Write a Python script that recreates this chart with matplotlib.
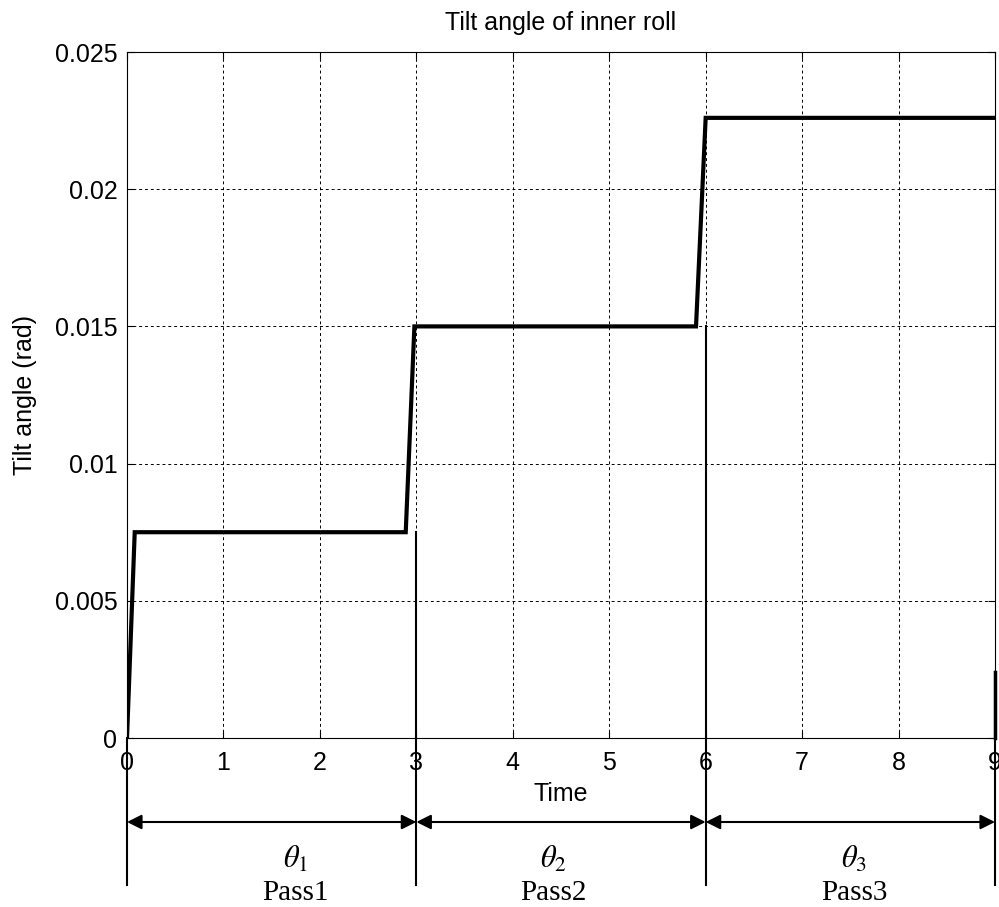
import matplotlib
matplotlib.use('Agg')
import matplotlib.pyplot as plt
import matplotlib.transforms as transforms

plt.rcParams['font.family'] = ['Liberation Sans', 'DejaVu Sans']
plt.rcParams['mathtext.fontset'] = 'stix'

# step response of the tilt angle over three passes
time = [0, 0.08, 2.89, 2.98, 5.90, 6.0, 9.0]
tilt = [0, 0.0075, 0.0075, 0.015, 0.015, 0.0226, 0.0226]

# start of the next pass, seen at the right edge
next_t = [9.0, 9.0]
next_tilt = [0, 0.0024]

pass_edges = [0, 3, 6, 9]
edge_levels = [0, 0.0075, 0.015, 0.0024]
theta_labels = [r'$\theta_1$', r'$\theta_2$', r'$\theta_3$']
pass_labels = ['Pass1', 'Pass2', 'Pass3']
label_x = [1.75, 4.42, 7.54]

xticks = [0, 1, 2, 3, 4, 5, 6, 7, 8, 9]
yticks = [0, 0.005, 0.01, 0.015, 0.02, 0.025]
yticklabels = ['0', '0.005', '0.01', '0.015', '0.02', '0.025']

W, H = 999, 907
fig = plt.figure(figsize=(W / 100, H / 100), dpi=100)
ax = fig.add_axes([127 / W, 1 - 738 / H, 868 / W, 686 / H])

ax.plot(time, tilt, color='black', linewidth=3, solid_joinstyle='miter')
ax.plot(next_t, next_tilt, color='black', linewidth=2.5, clip_on=False)

ax.set_xlim(0, 9)
ax.set_ylim(0, 0.025)
ax.set_xticks(xticks)
ax.set_yticks(yticks)
ax.set_yticklabels(yticklabels)
ax.tick_params(direction='in', top=True, right=True, labelsize=18, length=5, width=0.8)
ax.tick_params(axis='x', pad=9)
ax.tick_params(axis='y', pad=7)
ax.grid(True, color='black', linestyle=(0, (3, 3)), linewidth=0.7)
for sp in ax.spines.values():
    sp.set_linewidth(0.8)

ax.set_title('Tilt angle of inner roll', fontsize=18, pad=16)
ax.set_xlabel('Time', fontsize=18)
ax.xaxis.set_label_coords(0.5, -0.064)
ax.set_ylabel('Tilt angle (rad)', fontsize=18)
ax.yaxis.set_label_coords(-0.104, 0.5)

# pass annotations below the axes
trans = transforms.blended_transform_factory(ax.transData, fig.transFigure)
bottom = 1 - 885 / H
arrow_y = 1 - 822 / H
for x, lvl in zip(pass_edges, edge_levels):
    y0 = fig.transFigure.inverted().transform(ax.transData.transform((x, lvl)))[1]
    ax.plot([x, x], [y0, bottom], color='black', linewidth=1.5,
            transform=trans, clip_on=False)

for i in range(3):
    ax.annotate('', xy=(pass_edges[i], arrow_y), xytext=(pass_edges[i + 1], arrow_y),
                xycoords=trans, textcoords=trans, annotation_clip=False,
                arrowprops=dict(arrowstyle='<|-|>', color='black', lw=1.5,
                                mutation_scale=22, shrinkA=0, shrinkB=0))
    ax.text(label_x[i], 1 - 860 / H, theta_labels[i], transform=trans,
            ha='center', va='center', fontsize=22)
    ax.text(label_x[i], 1 - 893 / H, pass_labels[i], transform=trans,
            ha='center', va='center', fontsize=21, family='Liberation Serif')

fig.savefig('out.png', dpi=100)
